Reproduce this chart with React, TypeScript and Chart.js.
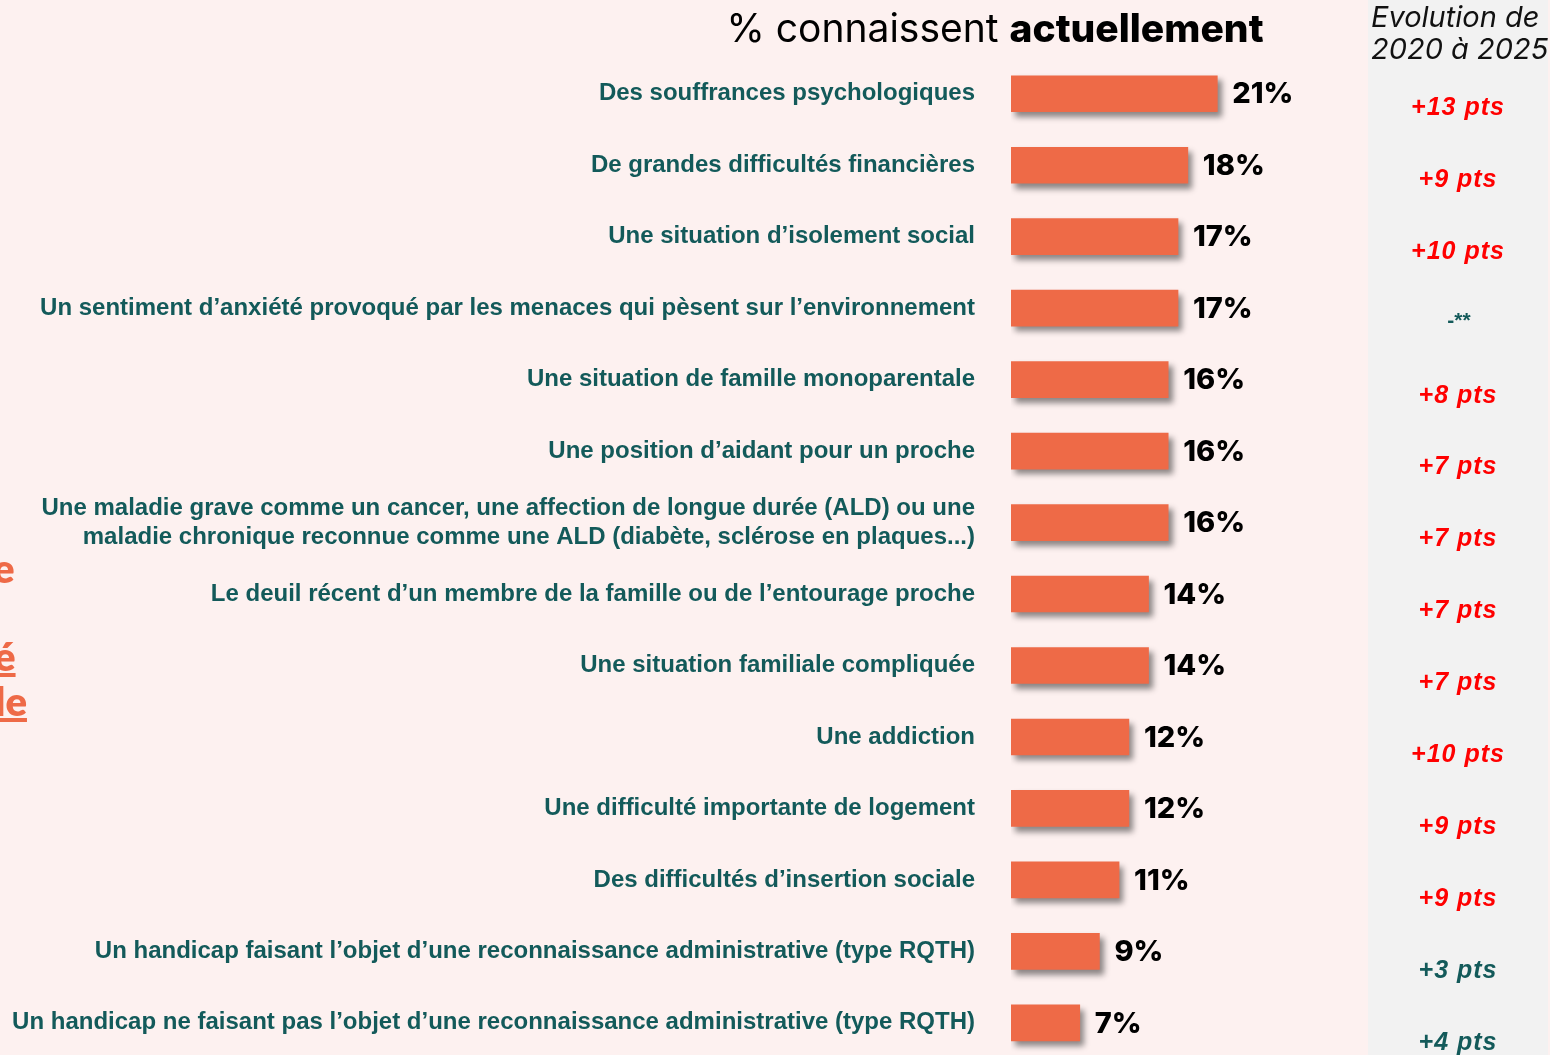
import React, { useEffect, useRef } from "react";
import { Chart, registerables } from "chart.js";

Chart.register(...registerables);

const CATEGORIES: (string | string[])[] = [
  "Des souffrances psychologiques",
  "De grandes difficultés financières",
  "Une situation d’isolement social",
  "Un sentiment d’anxiété provoqué par les menaces qui pèsent sur l’environnement",
  "Une situation de famille monoparentale",
  "Une position d’aidant pour un proche",
  [
    "Une maladie grave comme un cancer, une affection de longue durée (ALD) ou une",
    "maladie chronique reconnue comme une ALD (diabète, sclérose en plaques...)",
  ],
  "Le deuil récent d’un membre de la famille ou de l’entourage proche",
  "Une situation familiale compliquée",
  "Une addiction",
  "Une difficulté importante de logement",
  "Des difficultés d’insertion sociale",
  "Un handicap faisant l’objet d’une reconnaissance administrative (type RQTH)",
  "Un handicap ne faisant pas l’objet d’une reconnaissance administrative (type RQTH)",
];

const VALUES = [21, 18, 17, 17, 16, 16, 16, 14, 14, 12, 12, 11, 9, 7];

const EVOLUTION = [
  "+13 pts", "+9 pts", "+10 pts", "-**", "+8 pts", "+7 pts", "+7 pts",
  "+7 pts", "+7 pts", "+10 pts", "+9 pts", "+9 pts", "+3 pts", "+4 pts",
];

const EVOLUTION_SIGNIFICANT = [
  true, true, true, false, true, true, true, true, true, true, true, true, false, false,
];

const BG = "#fdf1f0";
const PANEL = "#f2f2f2";
const BAR = "#ee6a47";
const TEAL = "#135a5a";
const RED = "#ff0000";

const W = 1550;
const H = 1109;

const overlayPlugin = {
  id: "overlay",
  beforeDatasetsDraw(chart: any) {
    const ctx = chart.ctx;
    ctx.save();
    ctx.shadowColor = "rgba(0,0,0,0.45)";
    ctx.shadowBlur = 6;
    ctx.shadowOffsetX = 4;
    ctx.shadowOffsetY = 5;
  },
  afterDatasetsDraw(chart: any) {
    const ctx = chart.ctx;
    ctx.restore();
    const meta = chart.getDatasetMeta(0);
    const yScale = chart.scales.y;
    ctx.save();
    ctx.textBaseline = "middle";
    ctx.textAlign = "left";
    ctx.fillStyle = "#000";
    ctx.font = "800 29px Inter";
    meta.data.forEach((bar: any, i: number) => {
      ctx.fillText(VALUES[i] + "%", bar.x + 15, bar.y + 1);
    });
    ctx.textAlign = "center";
    EVOLUTION.forEach((t, i) => {
      const y = yScale.getPixelForValue(i) + 14 + i * 0.5;
      if (t === "-**") {
        ctx.letterSpacing = "0px";
        ctx.font = "bold 21px 'Liberation Sans'";
        ctx.fillStyle = TEAL;
        ctx.fillText(t, 1459, y - 2);
      } else {
        ctx.letterSpacing = "1px";
        ctx.font = "italic bold 25px 'Liberation Sans'";
        ctx.fillStyle = EVOLUTION_SIGNIFICANT[i] ? RED : TEAL;
        ctx.fillText(t, 1458, y);
      }
    });
    ctx.restore();
  },
};

export default function App() {
  const ref = useRef<HTMLCanvasElement | null>(null);
  useEffect(() => {
    if (!ref.current) return;
    const chart = new Chart(ref.current, {
      type: "bar",
      data: {
        labels: CATEGORIES,
        datasets: [
          {
            data: VALUES,
            backgroundColor: BAR,
            borderWidth: 0,
            barThickness: 36,
          },
        ],
      },
      options: {
        indexAxis: "y",
        animation: false,
        responsive: false,
        events: [],
        layout: { padding: { top: 58, bottom: 0, left: 0, right: 146 } },
        plugins: { legend: { display: false }, tooltip: { enabled: false }, title: { display: false } },
        scales: {
          x: { display: false, min: 0, max: 40 },
          y: {
            afterFit(scale: any) {
              scale.width = 1011;
            },
            grid: { display: false, drawTicks: false },
            border: { display: false },
            ticks: {
              padding: 36,
              color: TEAL,
              font: { family: "'Liberation Sans'", size: 24, weight: "bold", lineHeight: 1.2 },
              autoSkip: false,
            },
          },
        },
      },
      plugins: [overlayPlugin],
    });
    return () => chart.destroy();
  }, []);

  const frag: React.CSSProperties = {
    position: "absolute",
    color: BAR,
    fontFamily: "Lato, sans-serif",
    fontWeight: 800,
    fontSize: 40,
    lineHeight: "44px",
    whiteSpace: "nowrap",
  };

  return (
    <div style={{ position: "fixed", left: 0, top: 0, width: W, height: 1055, overflow: "hidden", background: BG }}>
      <div style={{ position: "absolute", left: 1368, top: 0, width: 180, height: 1055, background: PANEL }} />
      <canvas ref={ref} width={W} height={H} style={{ position: "absolute", left: 0, top: 0, width: W, height: H }} />
      <div
        style={{
          position: "absolute",
          left: 995,
          top: 6,
          transform: "translateX(-50%)",
          fontFamily: "Inter, sans-serif",
          fontSize: 39,
          lineHeight: "44px",
          color: "#000",
          whiteSpace: "nowrap",
        }}
      >
        % connaissent <b style={{ fontWeight: 800 }}>actuellement</b>
      </div>
      <div
        style={{
          position: "absolute",
          left: 1371,
          top: 1,
          fontFamily: "Inter, sans-serif",
          fontStyle: "italic",
          fontSize: 29,
          lineHeight: "32px",
          color: "#111",
          whiteSpace: "nowrap",
        }}
      >
        Evolution de
        <br />
        2020 à 2025
      </div>
      <div style={{ ...frag, left: -7, top: 546 }}>e</div>
      <div style={{ ...frag, left: -6, top: 634, textDecoration: "underline" }}>é</div>
      <div style={{ ...frag, left: -5, top: 679, textDecoration: "underline" }}>le</div>
    </div>
  );
}
